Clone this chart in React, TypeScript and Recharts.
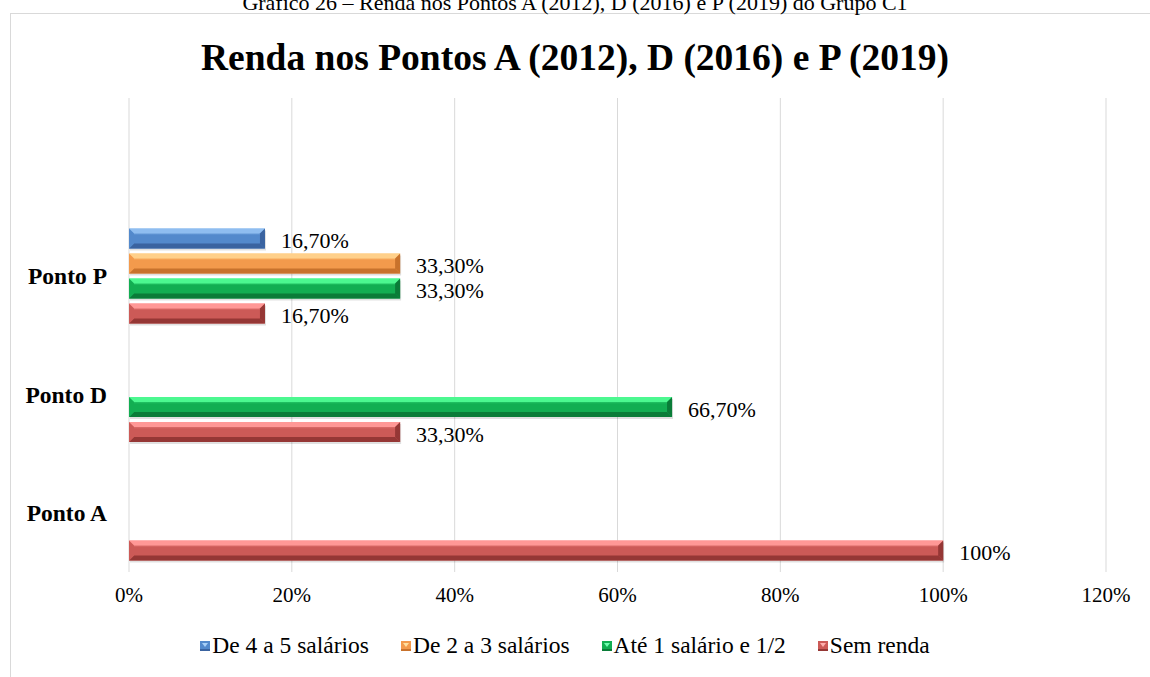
import React from "react";
import { BarChart, Bar, XAxis, YAxis, CartesianGrid, LabelList } from "recharts";

const categories = ["", "Ponto P", "Ponto D", "Ponto A"];
const de4a5: (number | null)[] = [null, 16.7, null, null];
const de2a3: (number | null)[] = [null, 33.3, null, null];
const ate1: (number | null)[] = [null, 33.3, 66.7, null];
const semRenda: (number | null)[] = [null, 16.7, 33.3, 100];
const xTicks = [0, 20, 40, 60, 80, 100, 120];

const caption = "Gráfico 26 – Renda nos Pontos A (2012), D (2016) e P (2019) do Grupo C1";
const title = "Renda nos Pontos A (2012), D (2016) e P (2019)";

const FONT = '"Liberation Serif", "Times New Roman", serif';

type Pal = { key: string; name: string; base: string; light: string; dark: string; hi: string };
const series: Pal[] = [
  { key: "b", name: "De 4 a 5 salários", base: "#5389cc", light: "#8fbdf0", dark: "#3a63a0", hi: "#a8d0f8" },
  { key: "o", name: "De 2 a 3 salários", base: "#f39a4c", light: "#ffd08a", dark: "#c8722c", hi: "#ffe0a0" },
  { key: "g", name: "Até 1 salário e 1/2", base: "#12ae52", light: "#4cf890", dark: "#0a7c38", hi: "#70ffb0" },
  { key: "r", name: "Sem renda", base: "#cc5a57", light: "#ff9896", dark: "#953735", hi: "#ffb0ae" },
];
const values = [de4a5, de2a3, ate1, semRenda];

const data = categories.map((name, i) => {
  const row: Record<string, any> = { name };
  series.forEach((s, k) => {
    row[s.key] = values[k][i];
  });
  return row;
});

const fmt = (v: number) => (Number.isInteger(v) ? `${v}%` : `${v.toFixed(2).replace(".", ",")}%`);

const makeShape = (c: Pal) => (props: any) => {
  const { x, y, width, height } = props;
  if (width == null || width <= 0 || height <= 0) return <g />;
  const b = Math.min(5, width / 2, height / 2);
  const gid = `grad-${c.key}`;
  return (
    <g>
      <defs>
        <linearGradient id={gid} x1="0" y1="0" x2="0" y2="1">
          <stop offset="0%" stopColor={c.light} />
          <stop offset="35%" stopColor={c.base} />
          <stop offset="100%" stopColor={c.base} />
        </linearGradient>
      </defs>
      <rect x={x + 1} y={y + 2} width={width} height={height} fill="rgba(0,0,0,0.12)" />
      <rect x={x} y={y} width={width} height={height} fill={`url(#${gid})`} />
      <polygon points={`${x},${y} ${x + width},${y} ${x + width - b},${y + b} ${x + b},${y + b}`} fill={c.light} />
      <polygon
        points={`${x},${y + height} ${x + width},${y + height} ${x + width - b},${y + height - b} ${x + b},${y + height - b}`}
        fill={c.dark}
      />
      <polygon points={`${x},${y} ${x + b},${y + b} ${x + b},${y + height - b} ${x},${y + height}`} fill={c.base} />
      <polygon
        points={`${x + width},${y} ${x + width - b},${y + b} ${x + width - b},${y + height - b} ${x + width},${y + height}`}
        fill={c.dark}
      />
    </g>
  );
};

const renderLabel = (props: any) => {
  const vb = props.viewBox || {};
  const x = props.x ?? vb.x;
  const y = props.y ?? vb.y;
  const width = props.width ?? vb.width;
  const height = props.height ?? vb.height;
  const value = props.value;
  if (value == null || x == null) return null;
  return (
    <text
      x={x + width + 16}
      y={y + height / 2 + 2}
      dominantBaseline="central"
      fontSize={22}
      fontFamily={FONT}
      fill="#000"
    >
      {fmt(Number(value))}
    </text>
  );
};

const LegendIcon = ({ c }: { c: Pal }) => (
  <svg width={10} height={10} style={{ marginRight: 2 }}>
    <rect x={0} y={0} width={10} height={10} fill={c.base} />
    <polygon points="2,2 8,2 5,6" fill={c.hi} />
    <rect x={0} y={8} width={10} height={2} fill={c.dark} />
  </svg>
);

export default function App() {
  return (
    <div style={{ position: "absolute", left: 0, top: 0, width: 1150, height: 677, overflow: "hidden", background: "#fff" }}>
      <div
        style={{
          position: "absolute",
          left: 10,
          top: 13,
          width: 1300,
          height: 800,
          border: "1px solid #d9d9d9",
          boxSizing: "border-box",
        }}
      />
      <div style={{ position: "absolute", left: 0, top: 0 }}>
        <BarChart
          width={1150}
          height={677}
          data={data}
          layout="vertical"
          margin={{ top: 98, right: 44, left: 0, bottom: 75 }}
          barSize={20}
          barGap={5}
        >
          <CartesianGrid horizontal={false} stroke="#d9d9d9" strokeWidth={1} />
          <XAxis
            type="number"
            domain={[0, 120]}
            ticks={xTicks}
            tickFormatter={(v: number) => `${v}%`}
            axisLine={false}
            tickLine={false}
            tickSize={0}
            tickMargin={15}
            height={30}
            tick={{ fontSize: 21, fill: "#000", fontFamily: FONT }}
            interval={0}
          />
          <YAxis
            type="category"
            dataKey="name"
            width={129}
            axisLine={false}
            tickLine={false}
            tickSize={0}
            tickMargin={22}
            interval={0}
            tick={{ fontSize: 23.5, fill: "#000", fontFamily: FONT, fontWeight: "bold" }}
          />
          {series.map((s) => (
            <Bar key={s.key} dataKey={s.key} name={s.name} fill={s.base} isAnimationActive={false} shape={makeShape(s)}>
              <LabelList dataKey={s.key} content={renderLabel} />
            </Bar>
          ))}
        </BarChart>
      </div>
      <svg width={1150} height={677} style={{ position: "absolute", left: 0, top: 0, pointerEvents: "none" }}>
        <text x={575} y={10} textAnchor="middle" fontSize={22} fontFamily={FONT} fill="#000">
          {caption}
        </text>
        <text x={575} y={70} textAnchor="middle" fontSize={37.5} fontWeight="bold" fontFamily={FONT} fill="#000">
          {title}
        </text>
      </svg>
      <div
        style={{
          position: "absolute",
          left: 0,
          top: 632,
          width: 1150,
          display: "flex",
          justifyContent: "center",
          alignItems: "center",
          fontFamily: FONT,
          fontSize: 23.5,
          color: "#000",
          gap: 32,
          paddingRight: 20,
          boxSizing: "border-box",
        }}
      >
        {series.map((s) => (
          <div key={s.key} style={{ display: "flex", alignItems: "center" }}>
            <LegendIcon c={s} />
            <span>{s.name}</span>
          </div>
        ))}
      </div>
    </div>
  );
}
